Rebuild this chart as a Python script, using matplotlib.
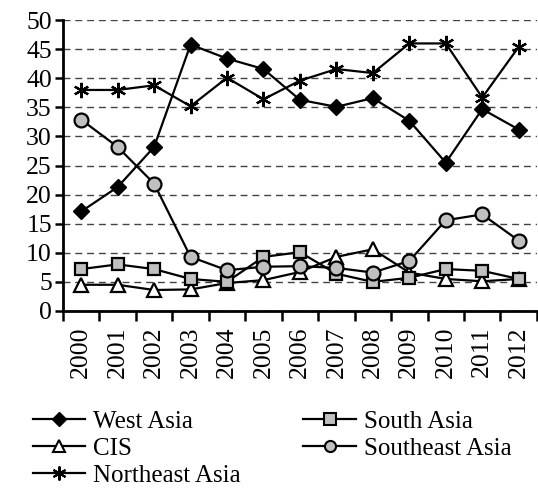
import matplotlib.pyplot as plt
from matplotlib.lines import Line2D

years = [str(y) for y in range(2000, 2013)]
west_asia = [17.1, 21.3, 28.2, 45.8, 43.4, 41.6, 36.3, 35.1, 36.6, 32.7, 25.5, 34.7, 31.2]
south_asia = [7.2, 8.0, 7.2, 5.5, 5.0, 9.3, 10.1, 6.4, 5.0, 5.7, 7.2, 6.9, 5.5]
cis = [4.5, 4.5, 3.6, 3.7, 4.8, 5.3, 6.7, 9.3, 10.6, 6.6, 5.5, 5.1, 5.5]
southeast_asia = [32.9, 28.2, 21.9, 9.3, 7.0, 7.6, 7.7, 7.4, 6.6, 8.6, 15.6, 16.6, 12.1]
northeast_asia = [38.0, 38.0, 38.8, 35.2, 40.1, 36.4, 39.6, 41.6, 40.9, 46.0, 46.0, 36.7, 45.4]

plt.rcParams['font.family'] = 'serif'
plt.rcParams['font.serif'] = ['Liberation Serif', 'DejaVu Serif']

fig = plt.figure(figsize=(5.38, 4.92), dpi=100)
ax = fig.add_axes([0.117, 0.368, 0.881, 0.591])

x = list(range(len(years)))
lw = 1.6
ax.plot(x, cis, color='black', lw=lw, marker='^', ms=10, mfc='white', mec='black', mew=1.6, zorder=3)
ax.plot(x, south_asia, color='black', lw=lw, marker='s', ms=9, mfc='#c0c0c0', mec='black', mew=1.6, zorder=3)
ax.plot(x, southeast_asia, color='black', lw=lw, marker='o', ms=10, mfc='#c0c0c0', mec='black', mew=1.6, zorder=3)
ax.plot(x, west_asia, color='black', lw=lw, marker='D', ms=8, mfc='black', mec='black', zorder=3)
ax.plot(x, northeast_asia, color='black', lw=lw, marker=(6, 2, 0), ms=11, mec='black', mew=1.6, zorder=3)

ax.set_xlim(-0.5, len(years) - 0.5)
ax.set_ylim(0, 50)
ax.set_yticks(range(0, 51, 5))
ax.set_xticks(x)
ax.set_xticklabels(years, rotation=90)
ax.set_xticks([i - 0.5 for i in range(len(years) + 1)], minor=True)
ax.tick_params(axis='x', which='major', length=0, pad=11, labelsize=18.5)
ax.tick_params(axis='x', which='minor', length=7, width=1.8, direction='out')
ax.tick_params(axis='y', length=6, width=1.8, pad=2, labelsize=18.5)

ax.yaxis.grid(True, linestyle=(0, (5, 3.5)), color='#444444', lw=1)
ax.set_axisbelow(True)
for s in ['top', 'right']:
    ax.spines[s].set_visible(False)
for s in ['left', 'bottom']:
    ax.spines[s].set_linewidth(2)

handles = [
    Line2D([], [], color='black', lw=lw, marker='D', ms=7, mfc='black'),
    Line2D([], [], color='black', lw=lw, marker='^', ms=8, mfc='white', mew=1.5),
    Line2D([], [], color='black', lw=lw, marker=(6, 2, 0), ms=10, mew=1.5),
    Line2D([], [], color='black', lw=lw, marker='s', ms=8, mfc='#c0c0c0', mew=1.5),
    Line2D([], [], color='black', lw=lw, marker='o', ms=8, mfc='#c0c0c0', mew=1.5),
]
labels = ['West Asia', 'CIS', 'Northeast Asia', 'South Asia', 'Southeast Asia']
fig.legend(handles, labels, ncol=2, loc='lower left', bbox_to_anchor=(0.061, 0.01),
           frameon=False, fontsize=18, handlelength=2.1,
           handletextpad=0.32, columnspacing=2.5, labelspacing=0.18,
           borderpad=0, borderaxespad=0)

fig.savefig('out.png', dpi=100)
